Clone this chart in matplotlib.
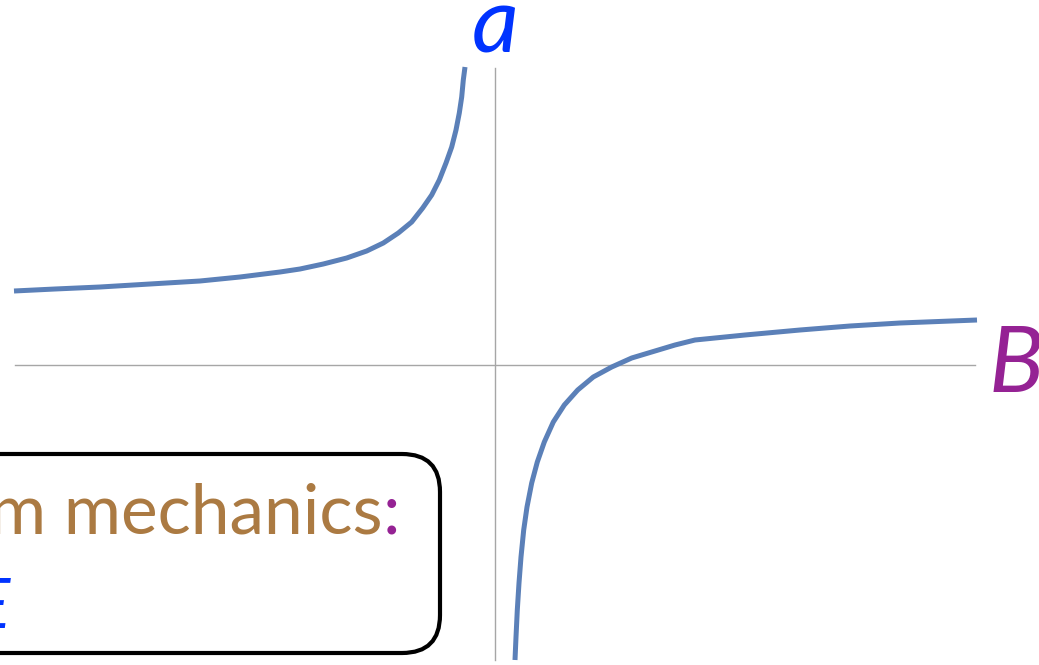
import matplotlib.pyplot as plt
from matplotlib.patches import FancyBboxPatch

# values (B on x, scattering length a on y)
B_left = [-4.81, -4.40, -3.95, -3.45, -2.95, -2.55, -2.15, -1.95, -1.717, -1.483, -1.283, -1.117,
          -0.967, -0.833, -0.723, -0.633, -0.557, -0.49, -0.433, -0.39, -0.357, -0.333, -0.317, -0.30]
a_left = [0.74, 0.76, 0.78, 0.81, 0.84, 0.88, 0.93, 0.96, 1.01, 1.07, 1.14, 1.22,
          1.32, 1.43, 1.57, 1.70, 1.85, 2.02, 2.18, 2.35, 2.52, 2.68, 2.85, 2.98]

B_right = [0.20, 0.21, 0.223, 0.24, 0.26, 0.287, 0.32, 0.367, 0.423, 0.493, 0.583, 0.693,
           0.827, 0.983, 1.167, 1.367, 1.60, 1.80, 2.00, 2.50, 3.05, 3.55, 4.05, 4.82]
a_right = [-2.95, -2.72, -2.45, -2.18, -1.92, -1.65, -1.42, -1.18, -0.97, -0.77, -0.57, -0.40,
           -0.25, -0.12, -0.02, 0.07, 0.14, 0.20, 0.25, 0.30, 0.35, 0.39, 0.42, 0.45]

B_axis = [-4.80, 4.80]
a_axis = [-2.95, 2.97]

curve_color = '#5b80b8'
axis_color = '#a6a6a6'

fig = plt.figure(figsize=(10.39, 6.65), dpi=100)
ax = fig.add_axes([0, 0, 1, 1])
ax.set_xlim(-4.95, 5.44)
ax.set_ylim(-3.0, 3.65)
ax.axis('off')

# axes lines
ax.plot(B_axis, [0, 0], color=axis_color, lw=1.0)
ax.plot([0, 0], a_axis, color=axis_color, lw=1.0)

# the two branches
ax.plot(B_left, a_left, color=curve_color, lw=3.6, solid_capstyle='butt', solid_joinstyle='round')
ax.plot(B_right, a_right, color=curve_color, lw=3.6, solid_capstyle='butt', solid_joinstyle='round')

# axis labels
ax.text(0.0, 3.38, 'a', color='#0033ff', fontsize=66, family='Lato', style='italic',
        ha='center', va='center')
ax.text(5.21, -0.02, 'B', color='#952294', fontsize=66, family='Lato', style='italic',
        ha='center', va='center')

# rounded box in the lower left
box = FancyBboxPatch((-5.6, -2.88), 5.05, 1.99,
                     boxstyle='round,pad=0,rounding_size=0.38',
                     fc='white', ec='black', lw=3.0, zorder=3)
ax.add_patch(box)
ax.text(-1.12, -1.68, 'Quantum mechanics', color='#ab7a42', fontsize=50, family='Lato',
        ha='right', va='baseline', zorder=4)
ax.text(-1.12, -1.68, ':', color='#952294', fontsize=50, family='Lato',
        ha='left', va='baseline', zorder=4)
ax.text(-4.85, -2.63, 'E', color='#0033ff', fontsize=50, family='Lato', style='italic',
        ha='right', va='baseline', zorder=4)

plt.savefig('out.png', dpi=100)
